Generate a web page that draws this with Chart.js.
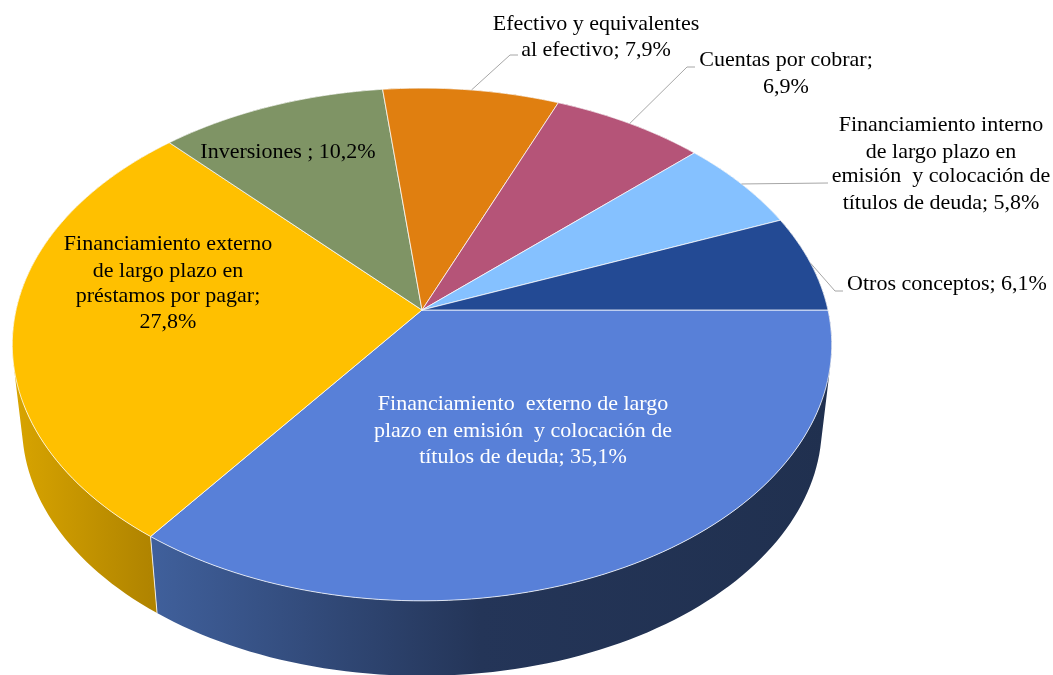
<!DOCTYPE html>
<html lang="es">
<head>
<meta charset="utf-8">
<title>Pastel 3D</title>
<script src="https://cdn.jsdelivr.net/npm/chart.js@4/dist/chart.umd.js"></script>
<style>
    html, body { margin: 0; padding: 0; background: #fff; }
    canvas { display: block; }
</style>
</head>
<body>
<canvas id="pie" width="1053" height="675"></canvas>
<script>
// values, in chart order (clockwise from 3 o'clock)
const categories = [
    'Financiamiento externo de largo plazo en emisión y colocación de títulos de deuda',
    'Financiamiento externo de largo plazo en préstamos por pagar',
    'Inversiones',
    'Efectivo y equivalentes al efectivo',
    'Cuentas por cobrar',
    'Financiamiento interno de largo plazo en emisión y colocación de títulos de deuda',
    'Otros conceptos'
];
const shares = [35.1, 27.8, 10.2, 7.9, 6.9, 5.8, 6.1];

const topColors = ['#5880d8', '#ffc000', '#7f9465', '#e07f10', '#b55478', '#85c1ff', '#234a94'];
const wallStops = [
    [[150, '#40609c'], [480, '#243558'], [830, '#20304f']],
    [[15, '#d8a400'], [150, '#b08400']],
    [[0, '#5f6f4c'], [1053, '#5f6f4c']],
    [[0, '#a85f0c'], [1053, '#a85f0c']],
    [[0, '#883f5a'], [1053, '#883f5a']],
    [[0, '#6491bf'], [1053, '#6491bf']],
    [[0, '#1a376f'], [1053, '#1a376f']]
];

// label lines: text, centre x, middle y
const labelLines = [
    [['Efectivo y equivalentes', 596, 24], ['al efectivo; 7,9%', 596, 50]],
    [['Cuentas por cobrar;', 786, 60], ['6,9%', 786, 87]],
    [['Financiamiento interno', 941, 125], ['de largo plazo en', 941, 152], ['emisión  y colocación de', 941, 176], ['títulos de deuda; 5,8%', 941, 203]],
    [['Otros conceptos; 6,1%', 947, 284]],
    [['Inversiones ; 10,2%', 288, 152]],
    [['Financiamiento externo', 168, 244], ['de largo plazo en', 168, 271], ['préstamos por pagar;', 168, 296], ['27,8%', 168, 322]],
    [['Financiamiento  externo de largo', 523, 404], ['plazo en emisión  y colocación de', 523, 431], ['títulos de deuda; 35,1%', 523, 457]]
];
const labelColors = ['#000', '#000', '#000', '#000', '#000', '#000', '#fff'];

// leader lines: slice index, then the elbow and end of the line
const leaders = [
    [3, [510, 55], [518, 55]],
    [4, [687, 67], [695, 67]],
    [5, [828, 183]],
    [6, [835, 291], [843, 291]]
];

// perspective of the tilted disc
const PERSPECTIVE = -0.1345;
const TILT = 0.62;
const DEPTH_DROP = 82;
const DEPTH_SCALE = 0.976;
const STEPS_PER_RAD = 40;

function project(arc, angle, bottom) {
    const u = Math.cos(angle);
    const v = Math.sin(angle);
    const d = 1 + PERSPECTIVE * v;
    const s = bottom ? DEPTH_SCALE : 1;
    return {
        x: arc.x + arc.outerRadius * s * u / d,
        y: arc.y + (bottom ? DEPTH_DROP : 0) + arc.outerRadius * TILT * s * v / d
    };
}

function angleList(arc) {
    const n = Math.max(2, Math.ceil((arc.endAngle - arc.startAngle) * STEPS_PER_RAD));
    const list = [];
    for (let i = 0; i <= n; i++) {
        list.push(arc.startAngle + (arc.endAngle - arc.startAngle) * i / n);
    }
    return list;
}

// top face of a slice
Chart.ArcElement.prototype.draw = function (ctx) {
    const { backgroundColor, borderColor, borderWidth } = this.options;
    ctx.save();
    ctx.beginPath();
    ctx.moveTo(this.x, this.y);
    angleList(this).forEach(a => {
        const p = project(this, a, false);
        ctx.lineTo(p.x, p.y);
    });
    ctx.closePath();
    ctx.fillStyle = backgroundColor;
    ctx.fill();
    ctx.strokeStyle = borderColor;
    ctx.lineWidth = borderWidth;
    ctx.lineJoin = 'round';
    ctx.stroke();
    ctx.restore();
};

function drawWall(ctx, arc, stops) {
    const angles = angleList(arc);
    const grad = ctx.createLinearGradient(0, 0, 1053, 0);
    stops.forEach(s => grad.addColorStop(s[0] / 1053, s[1]));
    ctx.beginPath();
    for (let i = 0; i < angles.length - 1; i++) {
        let quad = [
            project(arc, angles[i], false),
            project(arc, angles[i + 1], false),
            project(arc, angles[i + 1], true),
            project(arc, angles[i], true)
        ];
        let area = 0;
        quad.forEach((p, k) => {
            const q = quad[(k + 1) % 4];
            area += p.x * q.y - q.x * p.y;
        });
        if (area < 0) quad = quad.reverse();
        ctx.moveTo(quad[0].x, quad[0].y);
        quad.slice(1).forEach(p => ctx.lineTo(p.x, p.y));
        ctx.closePath();
    }
    ctx.fillStyle = grad;
    ctx.fill();
    // seam at the start of the slice
    const a = project(arc, arc.startAngle, false);
    const b = project(arc, arc.startAngle, true);
    ctx.beginPath();
    ctx.moveTo(a.x, a.y);
    ctx.lineTo(b.x, b.y);
    ctx.strokeStyle = 'rgba(255,255,255,0.8)';
    ctx.lineWidth = 1;
    ctx.stroke();
}

const pie3dPlugin = {
    id: 'pie3d',
    beforeDatasetsDraw(chart) {
        const ctx = chart.ctx;
        // back to front: yellow wall goes under the blue seam
        chart.getDatasetMeta(0).data.forEach((arc, i) => {
            ctx.save();
            drawWall(ctx, arc, wallStops[i]);
            ctx.restore();
        });
    },
    afterDatasetsDraw(chart) {
        const ctx = chart.ctx;
        const arcs = chart.getDatasetMeta(0).data;
        ctx.save();
        ctx.strokeStyle = '#a6a6a6';
        ctx.lineWidth = 1;
        leaders.forEach(line => {
            const arc = arcs[line[0]];
            const p = project(arc, (arc.startAngle + arc.endAngle) / 2, false);
            ctx.beginPath();
            ctx.moveTo(p.x, p.y);
            line.slice(1).forEach(pt => ctx.lineTo(pt[0], pt[1]));
            ctx.stroke();
        });
        ctx.font = '22px "Liberation Serif"';
        ctx.textAlign = 'center';
        ctx.textBaseline = 'middle';
        labelLines.forEach((lines, i) => {
            ctx.fillStyle = labelColors[i];
            lines.forEach(l => ctx.fillText(l[0], l[1], l[2]));
        });
        ctx.restore();
    }
};

new Chart(document.getElementById('pie'), {
    type: 'pie',
    data: {
        labels: categories,
        datasets: [{
            data: shares,
            backgroundColor: topColors,
            borderColor: 'rgba(255,255,255,0.75)',
            borderWidth: 1
        }]
    },
    options: {
        responsive: false,
        animation: false,
        rotation: 90,
        radius: 406,
        layout: { padding: { right: 209, bottom: 55 } },
        plugins: { legend: { display: false }, tooltip: { enabled: false } }
    },
    plugins: [pie3dPlugin]
});
</script>
</body>
</html>
